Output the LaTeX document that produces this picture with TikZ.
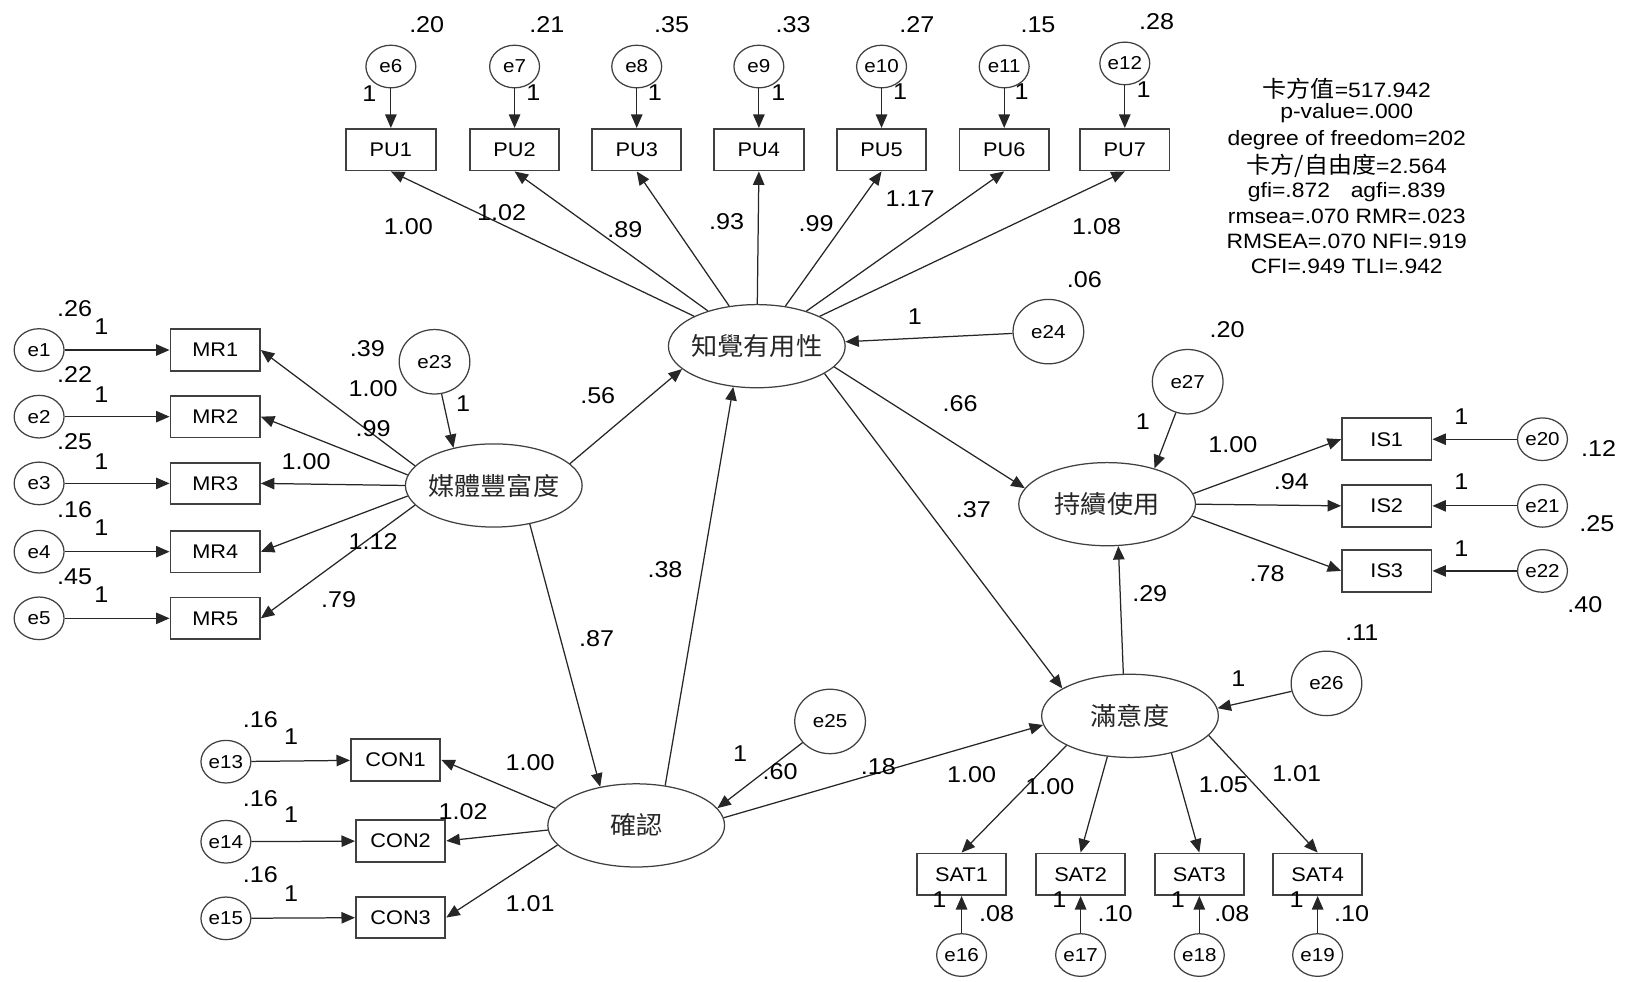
\documentclass[tikz,border=0pt]{standalone}
\usepackage{fontspec}
\setmainfont{Liberation Sans}[FakeStretch=1.1]
\newfontfamily\cjk{Noto Sans CJK TC}[FakeStretch=1.05]
\usetikzlibrary{arrows.meta,shapes.geometric}
\tikzset{
  obs/.style={draw=black!75, line width=0.9pt, minimum width=43pt, minimum height=20pt, inner sep=0pt, font=\fontsize{9.5}{10}\selectfont},
  err/.style={ellipse, draw=black!75, line width=0.6pt, minimum width=24pt, minimum height=20.5pt, inner sep=0pt, font=\fontsize{9}{10}\selectfont},
  bigerr/.style={err, minimum width=34pt, minimum height=31pt},
  lat/.style={ellipse, draw=black!75, line width=0.6pt, minimum width=85pt, minimum height=40pt, inner xsep=-8pt, inner ysep=0pt, font=\cjk\fontsize{12}{13}\selectfont, text=black!85},
  val/.style={inner sep=0pt, font=\fontsize{11}{12}\selectfont},
  stat/.style={inner sep=0pt, font=\fontsize{10}{11}\selectfont},
  arr/.style={draw=black!85, line width=0.6pt, -{Triangle[length=6.5pt,width=5.5pt]}},
}
\begin{document}
\begin{tikzpicture}[x=0.5pt,y=-0.5pt]
\useasboundingbox (0,0) rectangle (1568,944);

% ---------- latent variables ----------
\node[lat] (pu)  at (728,333) {知覺有用性};
\node[lat] (mr)  at (475,467) {媒體豐富度};
\node[lat] (cf)  at (612,794) {確認};
\node[lat] (iu)  at (1065,485) {持續使用};
\node[lat] (sat) at (1087,688.6) {滿意度};

% ---------- PU indicators ----------
\foreach \i/\x/\e/\ey in {1/376/6/64, 2/495/7/64, 3/612.5/8/64, 4/730/9/64, 5/848/10/64, 6/966/11/64, 7/1082/12/61}{
  \node[obs] (PU\i) at (\x,144) {PU\i};
  \node[err] (e\e) at (\x,\ey) {e\e};
  \draw[arr] (e\e) -- (PU\i);
  \draw[arr] (pu) -- (PU\i.south);
}
\node[val] (v6)  at (410.5,24) {.20};
\node[val] (v7)  at (526,24) {.21};
\node[val] (v8)  at (646,24) {.35};
\node[val] (v9)  at (763,24) {.33};
\node[val] (v10) at (882,24) {.27};
\node[val] (v11) at (998.5,24) {.15};
\node[val] (v12) at (1112.7,21) {.28};
\node[val] (w6)  at (355.3,89.8) {1};
\node[val] (w7)  at (513,89.5) {1};
\node[val] (w8)  at (630,89.5) {1};
\node[val] (w9)  at (748.7,89.5) {1};
\node[val] (w10) at (865.8,88) {1};
\node[val] (w11) at (982.8,88.5) {1};
\node[val] (w12) at (1100,86.6) {1};
\node[val] (lpu1) at (392.8,218) {1.00};
\node[val] (lpu2) at (482.6,205) {1.02};
\node[val] (lpu3) at (601,221) {.89};
\node[val] (lpu4) at (699,213) {.93};
\node[val] (lpu5) at (785,215) {.99};
\node[val] (lpu6) at (875.4,190.8) {1.17};
\node[val] (lpu7) at (1055,218) {1.08};

% e24
\node[bigerr] (e24) at (1008.5,319) {e24};
\draw[arr] (e24) -- (pu);
\node[val] (v24) at (1043,269) {.06};
\node[val] (w24) at (880,304.7) {1};

% ---------- fit statistics ----------
\node[stat] (s1) at (1295.5,85) {{\cjk\fontsize{11}{12}\selectfont 卡方值}=517.942};
\node[stat] (s2) at (1295.5,109) {p-value=.000};
\node[stat] (s3) at (1295.5,134.7) {degree of freedom=202};
\node[stat] (s4) at (1295.5,159.7) {{\cjk\fontsize{11}{12}\selectfont 卡方/自由度}=2.564};
\node[stat] (s5) at (1295.5,184.4) {gfi=.872\hspace{10pt}agfi=.839};
\node[stat] (s6) at (1295.5,208.5) {rmsea=.070 RMR=.023};
\node[stat] (s7) at (1295.5,232.5) {RMSEA=.070 NFI=.919};
\node[stat] (s8) at (1295.5,256.6) {CFI=.949 TLI=.942};

% ---------- MR indicators ----------
\foreach \i/\y/\a in {1/336.7/166, 2/400.8/173, 3/465/180, 4/530.7/187, 5/594.8/194}{
  \node[obs] (MR\i) at (207,\y) {MR\i};
  \node[err] (e\i) at (37.6,\y) {e\i};
  \draw[arr] (e\i) -- (MR\i);
  \draw[arr] (mr.\a) -- (MR\i.east);
}
\node[val] (v1) at (71.8,296.6) {.26};
\node[val] (w1) at (97.6,314.3) {1};
\node[val] (v2) at (71.8,360.7) {.22};
\node[val] (w2) at (97.6,380) {1};
\node[val] (v3) at (71.8,425) {.25};
\node[val] (w3) at (97.6,444) {1};
\node[val] (v4) at (71.8,490.6) {.16};
\node[val] (w4) at (97.6,508) {1};
\node[val] (v5) at (71.8,554.8) {.45};
\node[val] (w5) at (97.6,572.4) {1};
\node[val] (lmr1) at (359,373.6) {1.00};
\node[val] (lmr2) at (359,412) {.99};
\node[val] (lmr3) at (294.5,444) {1.00};
\node[val] (lmr4) at (359,521) {1.12};
\node[val] (lmr5) at (325.8,577) {.79};

\node[bigerr] (e23) at (418,348) {e23};
\draw[arr] (e23) -- (mr.137);
\node[val] (v23) at (353.4,335) {.39};
\node[val] (w23) at (445.5,388) {1};

% ---------- structural paths ----------
\draw[arr] (mr.16) -- (pu.197);
\draw[arr] (mr.313) -- (cf.133);
\draw[arr] (cf.54) -- (pu.240);
\draw[arr] (cf.5) -- (sat.186);
\draw[arr] (pu.345) -- (iu.169);
\draw[arr] (pu.338) -- (sat.158);
\draw[arr] (sat.99) -- (iu.285);
\node[val] (p1) at (575,381) {.56};
\node[val] (p2) at (574,614) {.87};
\node[val] (p3) at (639.7,548.3) {.38};
\node[val] (p4) at (845,737.5) {.18};
\node[val] (p5) at (923.5,388) {.66};
\node[val] (p6) at (936.3,490.6) {.37};
\node[val] (p7) at (1106,570.8) {.29};

% ---------- CON indicators ----------
\foreach \i/\x/\y/\e/\a in {1/380.6/731/13/168, 2/385.4/808.9/14/183, 3/385.4/882.6/15/194}{
  \node[obs] (CON\i) at (\x,\y) {CON\i};
  \draw[arr] (cf.\a) -- (CON\i.east);
}
\node[err] (e13) at (217.3,732.7) {e13};
\node[err] (e14) at (217.3,809.7) {e14};
\node[err] (e15) at (217.3,883.4) {e15};
\draw[arr] (e13) -- (CON1);
\draw[arr] (e14) -- (CON2);
\draw[arr] (e15) -- (CON3);
\node[val] (v13) at (250.5,692.6) {.16};
\node[val] (w13) at (280,708.7) {1};
\node[val] (v14) at (250.5,768) {.16};
\node[val] (w14) at (280,784) {1};
\node[val] (v15) at (250.5,841.7) {.16};
\node[val] (w15) at (280,859.4) {1};
\node[val] (lcon1) at (510,734) {1.00};
\node[val] (lcon2) at (445.5,780.8) {1.02};
\node[val] (lcon3) at (510,869) {1.01};

\node[bigerr] (e25) at (798.5,694) {e25};
\draw[arr] (e25) -- (cf.12);
\node[val] (w25) at (712,724.7) {1};
\node[val] (v25) at (750.4,742.4) {.60};

% ---------- IS indicators ----------
\foreach \i/\y/\e/\a in {1/422.5/20/7, 2/486.6/21/0, 3/549.2/22/352}{
  \node[obs] (IS\i) at (1334,\y) {IS\i};
  \node[err] (e\e) at (1483.8,\y) {e\e};
  \draw[arr] (e\e) -- (IS\i);
  \draw[arr] (iu.\a) -- (IS\i.west);
}
\node[val] (w20) at (1405.7,400.8) {1};
\node[val] (w21) at (1405.7,463.4) {1};
\node[val] (w22) at (1405.7,527.5) {1};
\node[val] (v20) at (1537.9,431.3) {.12};
\node[val] (v21) at (1536,503.4) {.25};
\node[val] (v22) at (1524.5,582) {.40};
\node[val] (lis1) at (1186,428) {1.00};
\node[val] (lis2) at (1242.3,463.4) {.94};
\node[val] (lis3) at (1219,551.5) {.78};

\node[bigerr] (e27) at (1142.5,367.2) {e27};
\draw[arr] (e27) -- (iu.37);
\node[val] (v27) at (1180.4,317.5) {.20};
\node[val] (w27) at (1099.5,405.6) {1};

% ---------- SAT indicators ----------
\foreach \i/\x/\e/\a in {1/925/16/205, 2/1039.5/17/241, 3/1153.7/18/318, 4/1267.5/19/346}{
  \node[obs] (SAT\i) at (\x,841) {SAT\i};
  \node[err] (e\e) at (\x,918.7) {e\e};
  \draw[arr] (e\e) -- (SAT\i);
  \draw[arr] (sat.\a) -- (SAT\i.north);
}
\node[val] (w16) at (903.6,865.8) {1};
\node[val] (w17) at (1019,865.8) {1};
\node[val] (w18) at (1133,865.8) {1};
\node[val] (w19) at (1247.4,865.8) {1};
\node[val] (v16) at (958.8,878.6) {.08};
\node[val] (v17) at (1072.6,878.6) {.10};
\node[val] (v18) at (1184.9,878.6) {.08};
\node[val] (v19) at (1300.3,878.6) {.10};
\node[val] (lsat1) at (934.7,745.5) {1.00};
\node[val] (lsat2) at (1010,756.8) {1.00};
\node[val] (lsat3) at (1176.8,755) {1.05};
\node[val] (lsat4) at (1247.4,744) {1.01};

\node[bigerr] (e26) at (1276,657.4) {e26};
\draw[arr] (e26) -- (sat.5);
\node[val] (v26) at (1310,609) {.11};
\node[val] (w26) at (1191.2,652.5) {1};
\end{tikzpicture}
\end{document}
